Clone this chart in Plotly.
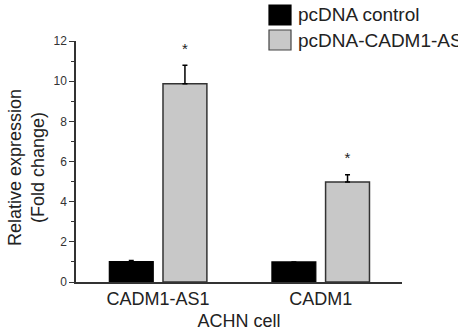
import plotly.graph_objects as go

categories = ["CADM1-AS1", "CADM1"]
series_names = ["pcDNA control", "pcDNA-CADM1-AS1"]
control_values = [1.02, 1.0]
control_errors = [0.05, 0.0]
treated_values = [9.87, 4.98]
treated_errors = [0.92, 0.36]
significance = ["*", "*"]

xs = list(range(len(categories)))
BAR_W = 0.27
FONT = "Arial, Liberation Sans"
fig = go.Figure()
fig.add_trace(go.Bar(
    x=xs, y=control_values, width=BAR_W, offset=-0.30,
    marker=dict(color="#000000", line=dict(color="#000000", width=1.2)),
    error_y=dict(type="data", array=control_errors, arrayminus=[0] * len(xs), symmetric=False,
                 color="#000000", thickness=1.5, width=2.5),
    name=series_names[0], showlegend=False,
))
fig.add_trace(go.Bar(
    x=xs, y=treated_values, width=BAR_W, offset=0.03,
    marker=dict(color="#c8c8c8", line=dict(color="#333333", width=1.5)),
    error_y=dict(type="data", array=treated_errors, arrayminus=[0] * len(xs), symmetric=False,
                 color="#000000", thickness=1.5, width=2.5),
    name=series_names[1], showlegend=False,
))
# significance stars above treated bars
fig.add_trace(go.Scatter(
    x=[x + 0.03 + BAR_W / 2 for x in xs],
    y=[v + e + 0.75 for v, e in zip(treated_values, treated_errors)],
    mode="text", text=significance, textposition="middle center",
    textfont=dict(size=15, color="#222222", family=FONT),
    showlegend=False, hoverinfo="skip", cliponaxis=False,
))

# legend drawn as boxes + text
legend_colors = ["#000000", "#c8c8c8"]
legend_lines = ["#000000", "#444444"]
W, H = 458, 334
L, T, PW, PH = 76, 41, 326, 241
for i, (nm, c, lc) in enumerate(zip(series_names, legend_colors, legend_lines)):
    y0 = 5 + i * 25
    fig.add_shape(type="rect", xref="paper", yref="paper",
                  x0=(269 - L) / PW, x1=(291 - L) / PW,
                  y0=(T + PH - (y0 + 20)) / PH, y1=(T + PH - y0) / PH,
                  fillcolor=c, line=dict(color=lc, width=1.2))
    fig.add_annotation(xref="paper", yref="paper", x=(296 - L) / PW, y=(T + PH - (y0 + 10)) / PH,
                       xanchor="left", yanchor="middle", text=nm, showarrow=False,
                       font=dict(size=19, color="#222222", family=FONT))

# y axis title
fig.add_annotation(xref="paper", yref="paper", x=(26 - L) / PW, y=(T + PH - 168) / PH,
                   xanchor="center", yanchor="middle", textangle=-90, showarrow=False,
                   text="Relative expression<br>(Fold change)",
                   font=dict(size=18, color="#222222", family=FONT))

fig.update_layout(
    width=W, height=H,
    margin=dict(l=L, r=W - L - PW, t=T, b=H - T - PH),
    paper_bgcolor="white", plot_bgcolor="white",
    barmode="overlay",
    font=dict(family=FONT, color="#222222"),
    xaxis=dict(
        range=[-0.505, 1.5], tickmode="array", tickvals=xs, ticktext=categories,
        showline=True, linecolor="#333333", linewidth=1.5, ticks="", showgrid=False,
        zeroline=False, tickfont=dict(size=18), automargin=False,
        title=dict(text="ACHN cell", font=dict(size=18), standoff=6),
    ),
    yaxis=dict(
        range=[0, 12], dtick=2, showline=True, linecolor="#333333", linewidth=1.5,
        ticks="outside", ticklen=5, tickwidth=1.2, tickcolor="#333333", automargin=False,
        minor=dict(dtick=1, ticks="outside", ticklen=3, tickcolor="#333333", tickwidth=1.2),
        showgrid=False, zeroline=False, tickfont=dict(size=12, color="#333333"),
    ),
)
fig.write_html("out.html")
